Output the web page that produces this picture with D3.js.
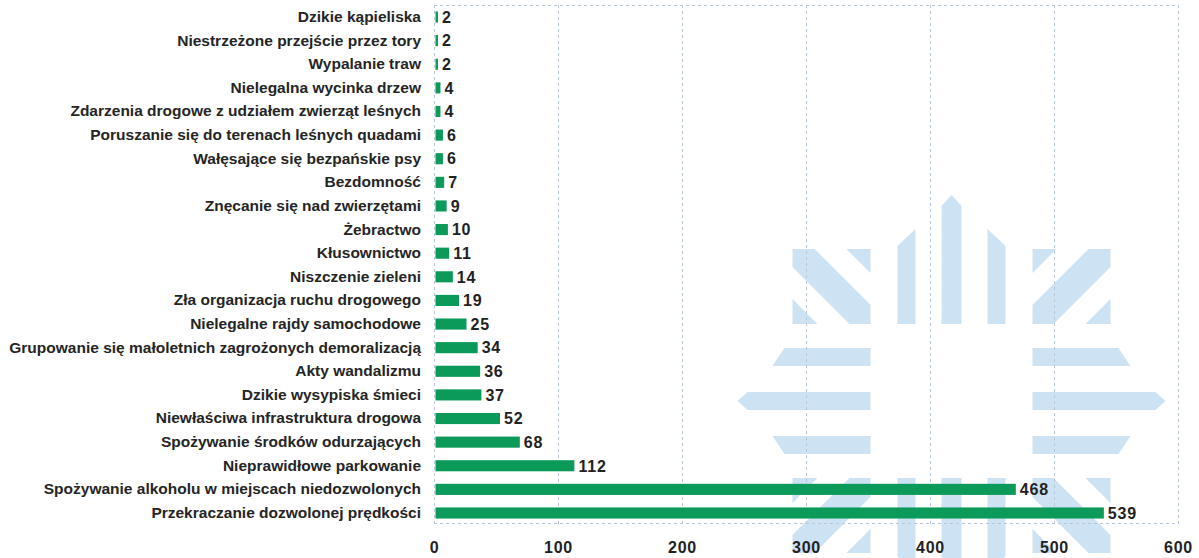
<!DOCTYPE html>
<html><head><meta charset="utf-8">
<script src="https://cdn.jsdelivr.net/npm/d3@7"></script>
<style>body{margin:0;background:#fff}svg{display:block}</style>
</head><body>
<svg id="c" width="1199" height="558"></svg>
<script>
const categories = [
  "Dzikie kąpieliska",
  "Niestrzeżone przejście przez tory",
  "Wypalanie traw",
  "Nielegalna wycinka drzew",
  "Zdarzenia drogowe z udziałem zwierząt leśnych",
  "Poruszanie się do terenach leśnych quadami",
  "Wałęsające się bezpańskie psy",
  "Bezdomność",
  "Znęcanie się nad zwierzętami",
  "Żebractwo",
  "Kłusownictwo",
  "Niszczenie zieleni",
  "Zła organizacja ruchu drogowego",
  "Nielegalne rajdy samochodowe",
  "Grupowanie się małoletnich zagrożonych demoralizacją",
  "Akty wandalizmu",
  "Dzikie wysypiska śmieci",
  "Niewłaściwa infrastruktura drogowa",
  "Spożywanie środków odurzających",
  "Nieprawidłowe parkowanie",
  "Spożywanie alkoholu w miejscach niedozwolonych",
  "Przekraczanie dozwolonej prędkości"
];
const values = [2,2,2,4,4,6,6,7,9,10,11,14,19,25,34,36,37,52,68,112,468,539];
const xTicks = [0,100,200,300,400,500,600];

const svg = d3.select("#c");
const x = d3.scaleLinear().domain([0,600]).range([434,1178]);
const y = d3.scaleBand().domain(categories).range([5.2,524.8]).paddingInner(0.53).paddingOuter(0.265);
const font = "'Liberation Sans', Arial, sans-serif";

// watermark (decorative background logo)
const wm = svg.append("g").attr("transform","translate(951.5,401)").attr("fill","#cde2f3");
const halfShapes = [
  [[-54,-77],[-54,-155],[-36,-172],[-36,-77]],
  [[-159,-152],[-137,-152],[-81,-96],[-81,-77],[-102,-77],[-159,-134]],
  [[-105,-152],[-81,-152],[-81,-128]],
  [[-159,-102],[-159,-77],[-134,-77]],
  [[-167,-53],[-81,-53],[-81,-35],[-179,-35]]
];
const center = [[-10,-77],[-10,-195],[0,-206],[10,-195],[10,-77]];
const mid = [[-214,0],[-204,-9],[-81,-9],[-81,9],[-204,9]];
const line = d3.line();
[[1,1],[-1,1],[1,-1],[-1,-1]].forEach(([sx,sy])=>{
  halfShapes.forEach(s=>wm.append("path").attr("d",line(s)+"Z").attr("transform",`scale(${sx},${sy})`));
});
[1,-1].forEach(sy=>wm.append("path").attr("d",line(center)+"Z").attr("transform",`scale(1,${sy})`));
[1,-1].forEach(sx=>wm.append("path").attr("d",line(mid)+"Z").attr("transform",`scale(${sx},1)`));

// gridlines
const grid = svg.append("g").attr("stroke","#b9c7d6").attr("stroke-width",1).attr("stroke-dasharray","3,3");
grid.selectAll("line.v").data(xTicks.slice(1)).join("line")
  .attr("x1",d=>x(d)+0.5).attr("x2",d=>x(d)+0.5).attr("y1",5).attr("y2",524);
grid.append("line").attr("x1",x(0)).attr("x2",x(600)).attr("y1",5.5).attr("y2",5.5);
grid.append("line").attr("x1",x(0)).attr("x2",x(600)).attr("y1",523.5).attr("y2",523.5);
grid.append("line").attr("x1",x(0)+0.5).attr("x2",x(0)+0.5).attr("y1",5).attr("y2",524);

// bars
svg.append("g").selectAll("rect").data(values).join("rect")
  .attr("x",x(0)+1.5).attr("y",(d,i)=>y(categories[i]))
  .attr("width",d=>x(d)-x(0)).attr("height",y.bandwidth())
  .attr("fill","#0b9a5a");

// value labels
svg.append("g").selectAll("text").data(values).join("text")
  .attr("x",d=>x(d)+5.5).attr("y",(d,i)=>y(categories[i])+y.bandwidth()/2)
  .attr("dy","0.36em").attr("font-family",font).attr("font-weight","bold").attr("font-size",16)
  .attr("letter-spacing",0.8).attr("fill","#222").text(d=>d);

// category axis
const ya = svg.append("g").attr("transform",`translate(${x(0)},0)`)
  .call(d3.axisLeft(y).tickSize(0).tickPadding(13));
ya.select(".domain").remove();
ya.selectAll("text").attr("font-family",font).attr("font-weight","bold").attr("font-size",15.5).attr("fill","#252525");

// x axis
const xa = svg.append("g").attr("transform","translate(0,524)")
  .call(d3.axisBottom(x).tickValues(xTicks).tickSize(0).tickPadding(18));
xa.select(".domain").remove();
xa.selectAll("text").attr("font-family",font).attr("font-weight","bold").attr("font-size",16)
  .attr("letter-spacing",0.8).attr("fill","#222");
</script>
</body></html>
